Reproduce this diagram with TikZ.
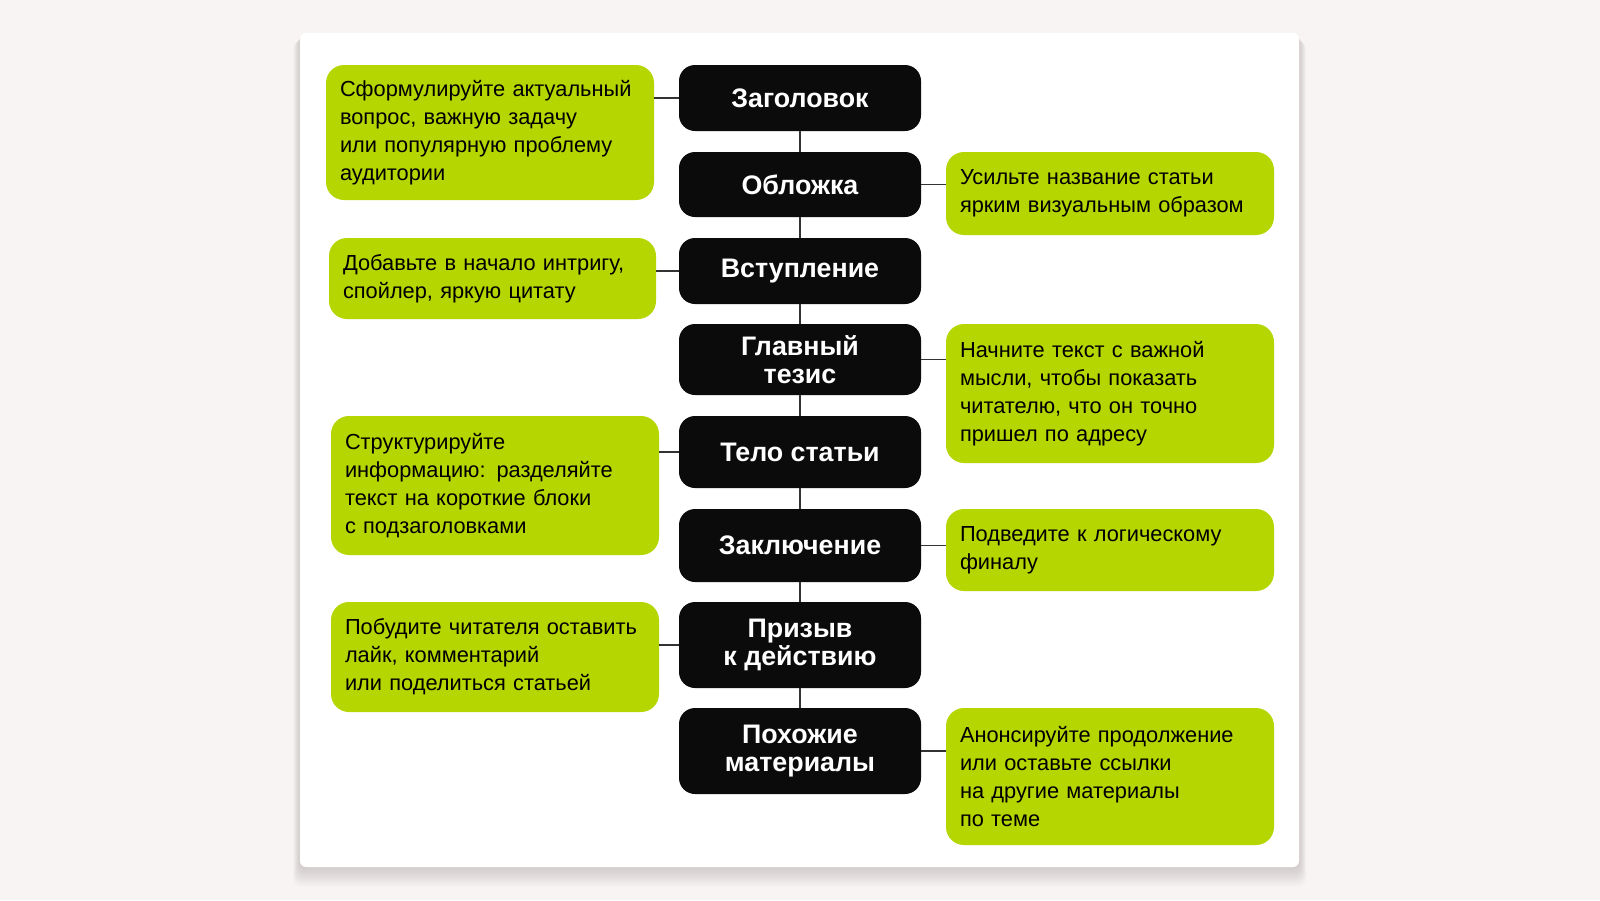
\documentclass[tikz,border=0pt]{standalone}
\usepackage{fontspec}
\setmainfont{Liberation Sans}
\definecolor{bgc}{HTML}{F9F4F4}
\definecolor{limeg}{HTML}{B5D600}
\definecolor{boxk}{HTML}{0B0B0B}
\definecolor{linec}{HTML}{333333}
\definecolor{shadc}{HTML}{8A8080}
\tikzset{
  gbox/.style={fill=limeg, rounded corners=18pt, inner xsep=14pt, inner ysep=0pt, align=left, text=black,
    font=\fontsize{21.8}{28}\selectfont},
  kbox/.style={fill=boxk, rounded corners=16pt, minimum width=242pt, inner sep=0pt, align=center, text=white,
    font=\fontsize{26.8}{28}\selectfont\bfseries},
  conn/.style={draw=linec, line width=1.6pt}
}
\begin{document}
\begin{tikzpicture}[x=1pt,y=-1pt]
\fill[bgc] (0,0) rectangle (1600,900);
\useasboundingbox (0,0) rectangle (1600,900);
% soft shadow of the card
\foreach \i in {1,...,14}{
  \fill[shadc, opacity=0.022, rounded corners=8pt] (300-0.5*\i, 33+0.6*\i) rectangle (1299+0.5*\i, 867+1.4*\i);
}
\fill[white, rounded corners=6pt] (300,33) rectangle (1299,867);
% black boxes
\node[kbox, minimum height=66pt] (b1) at (800,98) {Заголовок};
\node[kbox, minimum height=65pt] (b2) at (800,184.5) {Обложка};
\node[kbox, minimum height=66pt] (b3) at (800,271) {Вступление};
\node[kbox, minimum height=71pt] (b4) at (800,359.5) {Главный\\тезис};
\node[kbox, minimum height=72pt] (b5) at (800,452) {Тело статьи};
\node[kbox, minimum height=73pt] (b6) at (800,545.5) {Заключение};
\node[kbox, minimum height=86pt] (b7) at (800,645) {Призыв\\к действию};
\node[kbox, minimum height=86pt] (b8) at (800,751) {Похожие\\материалы};
% green boxes
\node[gbox, text width=300pt, minimum height=135pt] (l1) at (490,132.5) {Сформулируйте актуальный\\вопрос, важную задачу\\или популярную проблему\\аудитории};
\node[gbox, text width=300pt, minimum height=83pt] (r1) at (1110,193.5) {Усильте название статьи\\ярким визуальным образом};
\node[gbox, text width=299pt, minimum height=81pt] (l2) at (492.5,278.5) {Добавьте в начало интригу,\\спойлер, яркую цитату};
\node[gbox, text width=300pt, minimum height=139pt] (r2) at (1110,393.5) {Начните текст с важной\\мысли, чтобы показать\\читателю, что он точно\\пришел по адресу};
\node[gbox, text width=300pt, minimum height=139pt] (l3) at (495,485.5) {Структурируйте\\информацию: разделяйте\\текст на короткие блоки\\с подзаголовками};
\node[gbox, text width=300pt, minimum height=82pt] (r3) at (1110,550) {Подведите к логическому\\финалу};
\node[gbox, text width=300pt, minimum height=110pt] (l4) at (495,657) {Побудите читателя оставить\\лайк, комментарий\\или поделиться статьей};
\node[gbox, text width=300pt, minimum height=137pt] (r4) at (1110,776.5) {Анонсируйте продолжение\\или оставьте ссылки\\на другие материалы\\по теме};
% vertical connectors
\draw[conn] (b1.south) -- (b2.north);
\draw[conn] (b2.south) -- (b3.north);
\draw[conn] (b3.south) -- (b4.north);
\draw[conn] (b4.south) -- (b5.north);
\draw[conn] (b5.south) -- (b6.north);
\draw[conn] (b6.south) -- (b7.north);
\draw[conn] (b7.south) -- (b8.north);
% side connectors
\draw[conn] (b1.west) -- (b1.west -| l1.east);
\draw[conn] (b3.west) -- (b3.west -| l2.east);
\draw[conn] (b5.west) -- (b5.west -| l3.east);
\draw[conn] (b7.west) -- (b7.west -| l4.east);
\draw[conn] (b2.east) -- (b2.east -| r1.west);
\draw[conn] (b4.east) -- (b4.east -| r2.west);
\draw[conn] (b6.east) -- (b6.east -| r3.west);
\draw[conn] (b8.east) -- (b8.east -| r4.west);
\end{tikzpicture}
\end{document}
